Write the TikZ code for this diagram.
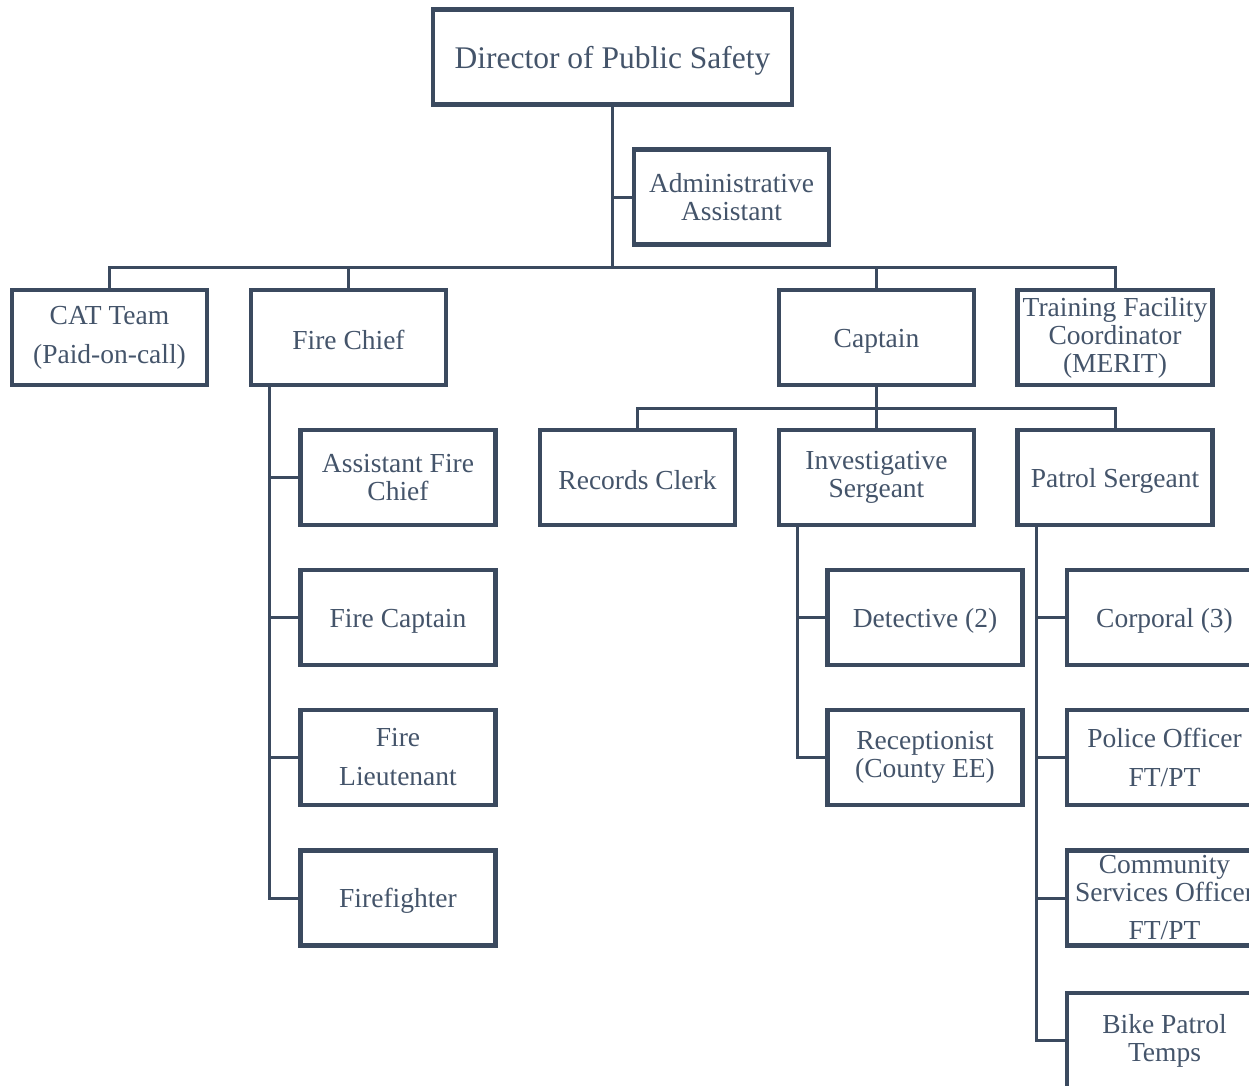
\documentclass[tikz,border=0pt]{standalone}
\usepackage{fontspec}
\setmainfont{Liberation Serif}
\definecolor{frame}{HTML}{3B4A5F}
\definecolor{ink}{HTML}{44546A}
\begin{document}
\begin{tikzpicture}[x=1pt,y=-1pt,
  box/.style={draw=frame, line width=4.5pt, rectangle, fill=white,
    minimum width=195pt, minimum height=95pt, inner sep=0pt,
    align=center, text=ink, font=\fontsize{27.5}{28}\selectfont,
    execute at begin node={\rule{0pt}{25pt}}},
  link/.style={draw=frame, line width=3pt}]
\useasboundingbox (0,0) rectangle (1249,1085);
\clip (0,0) rectangle (1249,1085);
\fill[white] (0,0) rectangle (1249,1085);

% top level
\node[box, minimum width=359pt, font=\fontsize{31.5}{32}\selectfont,
  execute at begin node={\rule{0pt}{30pt}}] (dir) at (612.5,57) {Director of Public Safety};
\node[box] (admin) at (731.5,197) {Administrative\\Assistant};

% second level
\node[box] (cat)   at (109.5,337.5) {CAT Team\\[11pt](Paid-on-call)};
\node[box] (chief) at (348.5,337.5) {Fire Chief};
\node[box] (capt)  at (876.5,337.5) {Captain};
\node[box] (train) at (1115,337.5)  {Training Facility\\Coordinator\\(MERIT)};

% fire department
\node[box] (afc)  at (398,477.5) {Assistant Fire\\Chief};
\node[box] (fcap) at (398,617.5) {Fire Captain};
\node[box] (flt)  at (398,757.5) {Fire\\[11pt]Lieutenant};
\node[box] (ff)   at (398,898)   {Firefighter};

% police under captain
\node[box] (recs)   at (637.5,477.5) {Records Clerk};
\node[box] (inv)    at (876.5,477.5) {Investigative\\Sergeant};
\node[box] (patrol) at (1115,477.5)  {Patrol Sergeant};

\node[box] (det)  at (925,617.5) {Detective (2)};
\node[box] (recp) at (925,757.5) {Receptionist\\(County EE)};

\node[box] (corp) at (1164.5,617.5) {Corporal (3)};
\node[box] (po)   at (1164.5,757.5) {Police Officer\\[11pt]FT/PT};
\node[box] (cso)  at (1164.5,898)   {Community\\Services Officer\\[10pt]FT/PT};
\node[box] (bike) at (1164.5,1040.5) {Bike Patrol\\Temps};

% bus lines and spines
\coordinate (busA) at (0,267);
\coordinate (busB) at (0,408);
\coordinate (fspine) at (269,0);
\coordinate (ispine) at (797,0);
\coordinate (pspine) at (1036,0);

\draw[link] (dir.south) -- (dir.south |- busA);
\draw[link] (dir.south |- admin.west) -- (admin.west);
\draw[link] (cat.north) |- (train.north |- busA) -- (train.north);
\draw[link] (chief.north) -- (chief.north |- busA);
\draw[link] (capt.north) -- (capt.north |- busA);

\draw[link] (capt.south) -- (capt.south |- busB);
\draw[link] (recs.north) |- (patrol.north |- busB) -- (patrol.north);
\draw[link] (inv.north) -- (inv.north |- busB);

\draw[link] (fspine |- chief.south) |- (ff.west);
\draw[link] (fspine |- afc.west) -- (afc.west);
\draw[link] (fspine |- fcap.west) -- (fcap.west);
\draw[link] (fspine |- flt.west) -- (flt.west);

\draw[link] (ispine |- inv.south) |- (recp.west);
\draw[link] (ispine |- det.west) -- (det.west);

\draw[link] (pspine |- patrol.south) |- (bike.west);
\draw[link] (pspine |- corp.west) -- (corp.west);
\draw[link] (pspine |- po.west) -- (po.west);
\draw[link] (pspine |- cso.west) -- (cso.west);
\end{tikzpicture}
\end{document}
